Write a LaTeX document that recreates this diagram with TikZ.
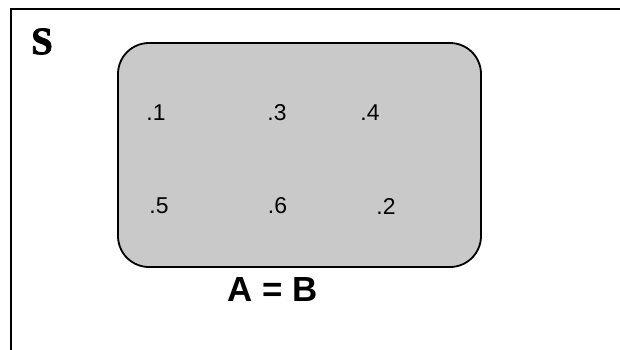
\documentclass[tikz,border=0pt]{standalone}
\usepackage{fontspec}
\setmainfont{Liberation Serif}
\setsansfont{Liberation Sans}
\newfontfamily\spacebold{Liberation Serif Bold}[FakeBold=2]
\usetikzlibrary{positioning}

\begin{document}
\begin{tikzpicture}[x=1bp, y=-1bp, frame/.style={line width=1.6bp}, setbox/.style={draw, line width=1.8bp, fill=black!21, rounded corners=31bp, minimum width=363bp, minimum height=224bp, inner sep=0pt}, elem/.style={font=\sffamily\fontsize{23}{23}\selectfont, inner sep=0pt}]
\useasboundingbox (0,0) rectangle (620,349);
\draw[frame] (11,352) -- (11,9) -- (623,9);
\node[font=\spacebold\fontsize{39}{39}\selectfont, inner sep=0pt] (s) at (42,41.5) {S};
\node[setbox] (ab) at (299.5,155) {};
\node[elem] (e1) at (156,112.5) {.1};
\node[elem] (e3) at (277,112.5) {.3};
\node[elem] (e4) at (370,112.5) {.4};
\node[elem] (e5) at (159,206) {.5};
\node[elem] (e6) at (277.5,206) {.6};
\node[elem] (e2) at (386,206) {.2};
\node[font=\sffamily\bfseries\fontsize{35}{35}\selectfont, inner sep=0pt] (lab) at (273,289.5) {A = B};
\end{tikzpicture}
\end{document}
